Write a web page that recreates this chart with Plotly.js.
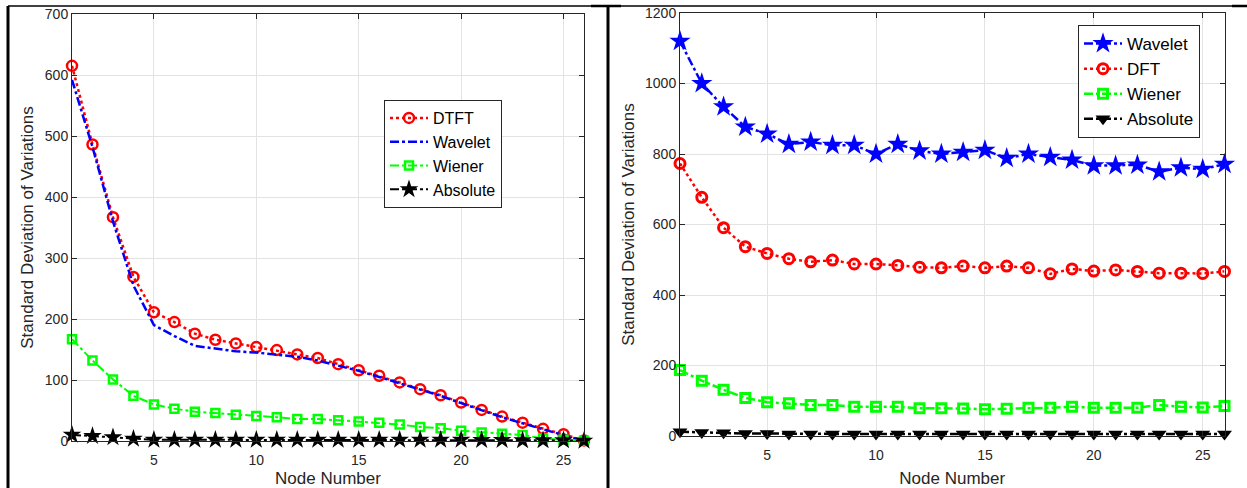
<!DOCTYPE html>
<html>
<head>
<meta charset="utf-8">
<script src="https://cdn.plot.ly/plotly-3.0.1.min.js"></script>
<style>
html,body{margin:0;padding:0;background:#fff;}
#chart{width:1247px;height:488px;}
</style>
</head>
<body>
<div id="chart"></div>
<script>
// ---- data ----
const nodes = [1,2,3,4,5,6,7,8,9,10,11,12,13,14,15,16,17,18,19,20,21,22,23,24,25,26];

// left panel
const leftDTFT     = [615,486,367,269,211,195,176,166,160,154,149,142,136,126,116,107,96,85,75,63,51,40,30,20,11,1];
const leftWavelet  = [592,482,360,255,190,172,156,151,147,145,142,138,132,124,115,105,95,84,74,62,50,39,29,19,9,0];
const leftWiener   = [167,132,101,74,60,53,48,46,43,41,39,36,36,34,32,30,27,23,21,17,14,12,10,4,2,0.5];
const leftAbsolute = [10,8,6,3.5,2,2,2,2,2,2,2,2,2,2,2,2,2,2,2,2,1.5,1.5,1,1,1,0.5];

// right panel
const rightWavelet  = [1120,1000,934,877,857,828,834,825,825,800,828,809,800,805,811,788,800,791,783,767,767,769,750,761,757,771];
const rightDFT      = [773,677,591,537,518,503,494,499,488,488,484,479,477,482,477,482,477,460,474,468,471,467,462,462,461,467];
const rightWiener   = [187,157,131,108,96,93,88,88,83,83,83,79,79,78,76,77,80,80,83,80,80,80,88,83,81,85];
const rightAbsolute = [12,10,9,7,7,6,6,6,6,6,6,6,6,6,6,6,6,6,6,6,6,6,6,6,6,6];

const xTicks = [5,10,15,20,25];
const leftYTicks = [0,100,200,300,400,500,600,700];
const rightYTicks = [0,200,400,600,800,1000,1200];

// ---- styling ----
const W = 1247, H = 488;
const px = v => v / W;
const py = v => 1 - v / H;
const FONT = '"Liberation Sans", Arial, sans-serif';
const AX = '#262626';

const traces = [
  {x: nodes, y: leftDTFT, name: 'DTFT', xaxis: 'x', yaxis: 'y', legend: 'legend', mode: 'lines+markers',
   line: {color: '#ff0000', dash: 'dot', width: 2.5},
   marker: {symbol: 'circle-open', size: 10, color: '#ff0000', line: {width: 2.5, color: '#ff0000'}}, cliponaxis: false},
  {x: nodes, y: leftWavelet, name: 'Wavelet', xaxis: 'x', yaxis: 'y', legend: 'legend', mode: 'lines',
   line: {color: '#0000ff', dash: 'dashdot', width: 2.5}, cliponaxis: false},
  {x: nodes, y: leftWiener, name: 'Wiener', xaxis: 'x', yaxis: 'y', legend: 'legend', mode: 'lines+markers',
   line: {color: '#00ff00', dash: 'dashdot', width: 2},
   marker: {symbol: 'square-open', size: 8, color: '#00ff00', line: {width: 2.5, color: '#00ff00'}}, cliponaxis: false},
  {x: nodes, y: leftAbsolute, name: 'Absolute', xaxis: 'x', yaxis: 'y', legend: 'legend', mode: 'lines+markers',
   line: {color: '#000000', dash: 'dashdot', width: 2},
   marker: {symbol: 'star', size: 14, color: '#000000'}, cliponaxis: false},

  {x: nodes, y: rightWavelet, name: 'Wavelet', xaxis: 'x2', yaxis: 'y2', legend: 'legend2', mode: 'lines+markers',
   line: {color: '#0000ff', dash: 'dashdot', width: 2.5},
   marker: {symbol: 'star', size: 16, color: '#0000ff'}, cliponaxis: false},
  {x: nodes, y: rightDFT, name: 'DFT', xaxis: 'x2', yaxis: 'y2', legend: 'legend2', mode: 'lines+markers',
   line: {color: '#ff0000', dash: 'dot', width: 2.5},
   marker: {symbol: 'circle-open', size: 10, color: '#ff0000', line: {width: 3, color: '#ff0000'}}, cliponaxis: false},
  {x: nodes, y: rightWiener, name: 'Wiener', xaxis: 'x2', yaxis: 'y2', legend: 'legend2', mode: 'lines+markers',
   line: {color: '#00ff00', dash: 'dashdot', width: 2.5},
   marker: {symbol: 'square-open', size: 9, color: '#00ff00', line: {width: 3, color: '#00ff00'}}, cliponaxis: false},
  {x: nodes, y: rightAbsolute, name: 'Absolute', xaxis: 'x2', yaxis: 'y2', legend: 'legend2', mode: 'lines+markers',
   line: {color: '#000000', dash: 'dashdot', width: 2.5},
   marker: {symbol: 'triangle-down', size: 13, color: '#000000'}, cliponaxis: false}
];

function xAxis(domain, anchor) {
  return {
    domain: domain, anchor: anchor, range: [1, 26], tickvals: xTicks,
    ticks: 'inside', ticklen: 5, tickcolor: AX, mirror: 'allticks',
    showline: true, linecolor: AX, linewidth: 1,
    showgrid: true, gridcolor: '#e3e3e3', gridwidth: 1, zeroline: false,
    tickfont: {family: FONT, size: 14, color: AX}, ticklabelstandoff: 6,
    title: {text: 'Node Number', font: {family: FONT, size: 17, color: AX}, standoff: 10},
    automargin: false
  };
}
function yAxis(domain, anchor, range, ticks) {
  return {
    domain: domain, anchor: anchor, range: range, tickvals: ticks,
    ticks: 'inside', ticklen: 5, tickcolor: AX, mirror: 'allticks',
    showline: true, linecolor: AX, linewidth: 1,
    showgrid: true, gridcolor: '#e3e3e3', gridwidth: 1, zeroline: false,
    tickfont: {family: FONT, size: 14, color: AX},
    title: {text: 'Standard Deviation of Variations', font: {family: FONT, size: 17, color: AX}, standoff: 6},
    automargin: false
  };
}

const legendBase = {
  bgcolor: '#ffffff', bordercolor: AX, borderwidth: 1,
  xanchor: 'left', yanchor: 'top', itemwidth: 38, tracegroupgap: 0,
  itemclick: false, itemdoubleclick: false
};

const layout = {
  width: W, height: H,
  margin: {l: 0, r: 0, t: 0, b: 0},
  paper_bgcolor: '#ffffff', plot_bgcolor: '#ffffff',
  font: {family: FONT, color: AX},
  showlegend: true,
  xaxis: xAxis([px(72), px(584)], 'y'),
  yaxis: yAxis([py(441), py(14)], 'x', [0, 700], leftYTicks),
  xaxis2: xAxis([px(680), px(1224.5)], 'y2'),
  yaxis2: yAxis([py(436), py(13)], 'x2', [0, 1200], rightYTicks),
  legend: Object.assign({}, legendBase, {x: px(384), y: py(100), font: {family: FONT, size: 16, color: '#000'}}),
  legend2: Object.assign({}, legendBase, {x: px(1078), y: py(25), font: {family: FONT, size: 17, color: '#000'}}),
  shapes: [
    {type: 'line', xref: 'paper', yref: 'paper', x0: px(8), x1: 1, y0: py(6), y1: py(6), line: {color: '#000', width: 1.5}},
    {type: 'line', xref: 'paper', yref: 'paper', x0: px(8), x1: px(8), y0: py(6), y1: 0, line: {color: '#000', width: 3}},
    {type: 'line', xref: 'paper', yref: 'paper', x0: px(608), x1: px(608), y0: py(6), y1: 0, line: {color: '#000', width: 3}},
    {type: 'line', xref: 'paper', yref: 'paper', x0: px(591), x1: px(621), y0: py(6), y1: py(6), line: {color: '#000', width: 2.5}},
    {type: 'line', xref: 'paper', yref: 'paper', x0: px(1232), x1: 1, y0: py(6), y1: py(6), line: {color: '#000', width: 2.5}}
  ]
};

Plotly.newPlot('chart', traces, layout, {staticPlot: true, displayModeBar: false});
</script>
</body>
</html>
